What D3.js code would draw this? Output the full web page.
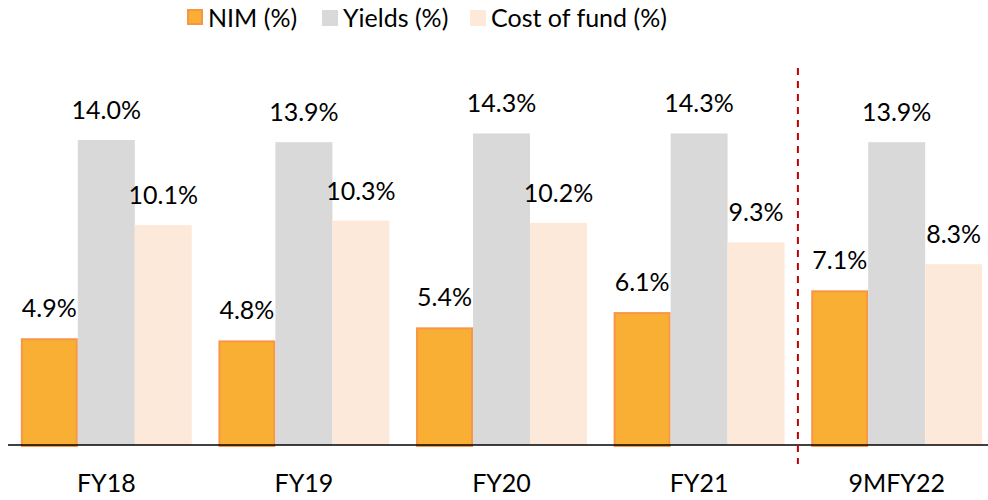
<!DOCTYPE html>
<html>
<head>
<meta charset="utf-8">
<script src="https://cdn.jsdelivr.net/npm/d3@7"></script>
<style>
  html, body { margin: 0; padding: 0; background: #fff; }
  svg { display: block; font-family: Lato, "Open Sans", sans-serif; }
</style>
</head>
<body>
<svg id="chart" width="988" height="500"></svg>
<script>
// Categories and series
const categories = ["FY18", "FY19", "FY20", "FY21", "9MFY22"];
const nim = [4.9, 4.8, 5.4, 6.1, 7.1];
const yields = [14.0, 13.9, 14.3, 14.3, 13.9];
const costOfFund = [10.1, 10.3, 10.2, 9.3, 8.3];
const seriesNames = ["NIM (%)", "Yields (%)", "Cost of fund (%)"];

const series = [
  { name: seriesNames[0], values: nim, fill: "#F9AE34", stroke: "#F79646" },
  { name: seriesNames[1], values: yields, fill: "#D9D9D9", stroke: null },
  { name: seriesNames[2], values: costOfFund, fill: "#FDE9D9", stroke: null }
];

const svg = d3.select("#chart");
const baseY = 445;
const fontSize = 25;

const x = d3.scaleBand().domain(categories).range([8, 995]).paddingInner(0.135).paddingOuter(0.065);
const xs = d3.scaleBand().domain(d3.range(series.length)).range([0, x.bandwidth()]);
const y = d3.scaleLinear().domain([0, 14.0]).range([baseY, 140]);

// Bars with value labels
series.forEach((s, si) => {
  const g = svg.append("g");
  g.selectAll("rect").data(s.values).join("rect")
    .attr("x", (d, i) => x(categories[i]) + xs(si) + (s.stroke ? 1 : 0))
    .attr("y", d => y(d) + (s.stroke ? 1 : 0))
    .attr("width", xs.bandwidth() - (s.stroke ? 2 : 0))
    .attr("height", d => baseY - y(d))
    .attr("fill", s.fill)
    .attr("stroke", s.stroke || "none")
    .attr("stroke-width", s.stroke ? 2 : 0);
  g.selectAll("text").data(s.values).join("text")
    .attr("x", (d, i) => x(categories[i]) + xs(si) + xs.bandwidth() / 2)
    .attr("y", d => y(d) - 21)
    .attr("text-anchor", "middle")
    .attr("font-size", fontSize)
    .attr("fill", "#000")
    .text(d => d.toFixed(1) + "%");
});

// Baseline axis
svg.append("line")
  .attr("x1", 8).attr("x2", 988)
  .attr("y1", baseY).attr("y2", baseY)
  .attr("stroke", "#000").attr("stroke-width", 1.5);

// Category labels
const xAxis = d3.axisBottom(x).tickSize(0).tickPadding(0);
const ax = svg.append("g").attr("transform", `translate(0,${baseY})`).call(xAxis);
ax.select(".domain").remove();
ax.selectAll("text")
  .attr("y", 47)
  .attr("dy", 0)
  .attr("font-size", fontSize)
  .attr("font-family", "Lato, 'Open Sans', sans-serif")
  .attr("fill", "#000");

// Divider before the nine-month period
const divX = (x("FY21") + x.bandwidth() + x("9MFY22")) / 2;
svg.append("line")
  .attr("x1", divX).attr("x2", divX)
  .attr("y1", 68).attr("y2", 464)
  .attr("stroke", "#C00000").attr("stroke-width", 2)
  .attr("stroke-dasharray", "7,6");

// Legend
const legendItems = [
  { x: 187, s: series[0] },
  { x: 322, s: series[1] },
  { x: 470, s: series[2] }
];
const lg = svg.append("g");
legendItems.forEach(it => {
  lg.append("rect")
    .attr("x", it.x + (it.s.stroke ? 1 : 0)).attr("y", 10)
    .attr("width", it.s.stroke ? 14 : 16).attr("height", it.s.stroke ? 14 : 16)
    .attr("fill", it.s.fill)
    .attr("stroke", it.s.stroke || "none")
    .attr("stroke-width", it.s.stroke ? 2 : 0);
  lg.append("text")
    .attr("x", it.x + 21).attr("y", 27)
    .attr("font-size", fontSize)
    .attr("fill", "#000")
    .text(it.s.name);
});
</script>
</body>
</html>
